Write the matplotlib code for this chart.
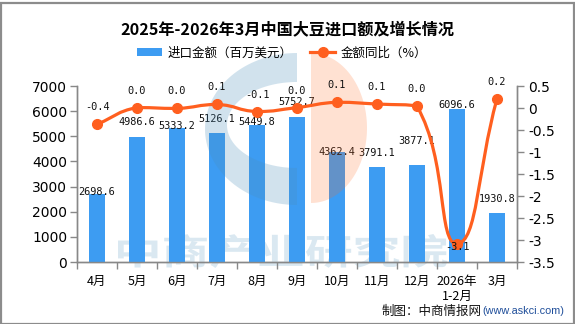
import numpy as np
import matplotlib
matplotlib.use("Agg")
import matplotlib.pyplot as plt
from matplotlib.path import Path
from matplotlib.patches import PathPatch, Polygon, Rectangle
from matplotlib.textpath import TextPath
from matplotlib.font_manager import FontProperties
from matplotlib.transforms import IdentityTransform, Affine2D
from matplotlib.lines import Line2D

plt.rcParams['font.family'] = ['Noto Sans CJK SC', 'DejaVu Sans']
plt.rcParams['axes.unicode_minus'] = False

# ---------------- data ----------------
categories = ['4月', '5月', '6月', '7月', '8月', '9月', '10月', '11月', '12月',
              '2026年\n1-2月', '3月']
import_value = [2698.6, 4986.6, 5333.2, 5126.1, 5449.8, 5752.7, 4362.4,
                3791.1, 3877.1, 6096.6, 1930.8]
yoy_growth = [-0.37, 0.01, -0.01, 0.08, -0.08, 0.01, 0.13, 0.09, 0.04, -3.09, 0.21]
left_ticks = [0, 1000, 2000, 3000, 4000, 5000, 6000, 7000]
right_ticks = [-3.5, -3.0, -2.5, -2.0, -1.5, -1.0, -0.5, 0.0, 0.5]

title = '2025年-2026年3月中国大豆进口额及增长情况'
bar_name = '进口金额（百万美元）'
line_name = '金额同比（%）'

# ---------------- style ----------------
W, H, DPI = 575, 324, 100
BAR_C = '#3D9CF2'
LINE_C = '#FF5F1F'
AX_C = '#888888'
bar_label_dy = [2, 15, 2, 14, 3, 15, 0, 14, 24, 4, 14]    # px above bar top
line_label_dy = [17, 17, 17, 17, 17, 17, 17, 17, 17, -3, 17]  # px above point

fig = plt.figure(figsize=(W / DPI, H / DPI), dpi=DPI)
fig.patch.set_facecolor('white')

L, R, T, B = 77, 517, 86, 262
ax = fig.add_axes([L / W, (H - B) / H, (R - L) / W, (B - T) / H])
ax.set_facecolor('none')
ax2 = ax.twinx()
ax2.set_facecolor('none')

x = np.arange(len(categories))
ax.bar(x, import_value, width=0.4, color=BAR_C, zorder=3)
ax.set_xlim(-0.5, len(categories) - 0.5)
ax.set_ylim(left_ticks[0], left_ticks[-1])
ax2.set_ylim(right_ticks[0], right_ticks[-1])

ax.set_yticks(left_ticks)
ax.set_yticklabels([str(v) for v in left_ticks], fontfamily='DejaVu Sans', fontsize=10)
ax2.set_yticks(right_ticks)
ax2.set_yticklabels([f'{v:g}' if abs(v) > 1e-9 else '0' for v in right_ticks],
                    fontfamily='DejaVu Sans', fontsize=10)
ax.set_xticks(x)
ax.set_xticklabels(categories, fontsize=9, linespacing=1.25)
ax.set_xticks(np.arange(-0.5, len(categories), 1.0), minor=True)
ax.tick_params(axis='x', which='major', length=0, pad=9)
ax.tick_params(axis='x', which='minor', length=5, color=AX_C, width=1)
ax.tick_params(axis='y', length=5, color=AX_C, width=1, pad=2)
ax2.tick_params(axis='y', length=5, color=AX_C, width=1, pad=3)

for a in (ax, ax2):
    a.spines['top'].set_visible(False)
    for s in ('left', 'right', 'bottom'):
        a.spines[s].set_color(AX_C)
        a.spines[s].set_linewidth(1)

# bar labels
for xi, v, dy in zip(x, import_value, bar_label_dy):
    ax.annotate(f'{v:.1f}', (xi, v), xytext=(0, dy * 0.72), textcoords='offset points',
                ha='center', va='center', fontsize=7.4, fontfamily='DejaVu Sans Mono',
                color='#111111', zorder=6)

# smoothed line (ECharts-like bezier smoothing in display space)
pts = ax2.transData.transform(np.column_stack([x, yoy_growth]))
n = len(pts)
smooth = 0.5
cp_in = [None] * n
cp_out = [None] * n
for i in range(n):
    p = pts[i]
    prev = pts[i - 1] if i > 0 else p
    nxt = pts[i + 1] if i < n - 1 else p
    v = nxt - prev
    d0 = np.hypot(*(p - prev))
    d1 = np.hypot(*(nxt - p))
    r = d1 / (d0 + d1) if (d0 + d1) > 0 else 0.5
    co = p + v * smooth * r
    ci = p - v * smooth * (1 - r)
    co = np.clip(co, np.minimum(p, nxt), np.maximum(p, nxt))
    ci = np.clip(ci, np.minimum(p, prev), np.maximum(p, prev))
    cp_in[i], cp_out[i] = ci, co
verts = [pts[0]]
codes = [Path.MOVETO]
for i in range(n - 1):
    verts += [cp_out[i], cp_in[i + 1], pts[i + 1]]
    codes += [Path.CURVE4] * 3
disp_path = Path(np.array(verts), codes)
data_path = disp_path.transformed(ax2.transData.inverted())
ax2.add_patch(PathPatch(data_path, facecolor='none', edgecolor=LINE_C, lw=2.3,
                        zorder=4, capstyle='round', joinstyle='round'))
ax2.plot(x, yoy_growth, linestyle='none', marker='o', markersize=7,
         color=LINE_C, zorder=5)
for xi, v, dy in zip(x, yoy_growth, line_label_dy):
    lab = f'{v:.1f}'
    if lab == '-0.0':
        lab = '0.0'
    ax2.annotate(lab, (xi, v), xytext=(0, dy * 0.72), textcoords='offset points',
                 ha='center', va='center', fontsize=7.4, fontfamily='DejaVu Sans Mono',
                 color='#111111', zorder=6)

# ---------- watermark logo (pixel coords, y from top) ----------
def px(xp, yp):
    return np.column_stack([xp, H - np.asarray(yp)])

th = np.linspace(np.pi / 2, 3 * np.pi / 2, 80)
outer = px(297 + 92 * np.cos(th), 129 - 76 * np.sin(th))
inner = px(297 + 70 * np.cos(th[::-1]), 125 - 43 * np.sin(th[::-1]))
blue_logo = Polygon(np.vstack([outer, inner]), closed=True, transform=IdentityTransform(),
                    facecolor='#4A8FBB', alpha=0.25, edgecolor='none', zorder=2, clip_on=False)
th2 = np.linspace(-np.pi / 2, np.pi / 2, 80)
orange = px(311 + 56 * np.cos(th2), 128 - 75 * np.sin(th2))
orange_logo = Polygon(orange, closed=True, transform=IdentityTransform(),
                      facecolor='#FF6A22', alpha=0.2, edgecolor='none', zorder=2, clip_on=False)
ax2.add_patch(blue_logo)
ax2.add_patch(orange_logo)

# watermark text behind bars
tp = TextPath((0, 0), '中商产业研究院', size=40,
              prop=FontProperties(family='Noto Sans CJK SC', weight='bold'))
bb = tp.get_extents()
x0, x1, ytop, ybot = 118, 447, 234, 268
tr = (Affine2D().translate(-bb.x0, -bb.y0)
      .scale((x1 - x0) / bb.width, (ybot - ytop) / bb.height)
      .translate(x0, H - ybot))
wm = PathPatch(tr.transform_path(tp), transform=IdentityTransform(),
               facecolor='#4A8FBB', alpha=0.2, edgecolor='none', zorder=-1)
fig.add_artist(wm)

# ---------- title, legend, source ----------
fig.text(0.5, 1 - 29 / H, title, ha='center', va='center', fontsize=11.6,
         fontweight='bold', color='#000000')
h_bar = Rectangle((0, 0), 1, 1, facecolor=BAR_C, edgecolor='none')
h_line = Line2D([], [], color=LINE_C, lw=2.3, marker='o', markersize=7)
fig.legend([h_bar, h_line], [bar_name, line_name], loc='center',
           bbox_to_anchor=(282 / W, 1 - 53 / H), ncol=2, frameon=False,
           fontsize=9, handlelength=2.0, handleheight=0.65, handletextpad=0.45,
           columnspacing=1.4, borderpad=0, borderaxespad=0)

fig.text(482 / W, 1 - 311 / H, '制图：中商情报网', ha='right', va='center',
         fontsize=9, color='#111111')
fig.text(482 / W, 1 - 311 / H, '(www.askci.com)', ha='left', va='center',
         fontsize=7.8, fontfamily='Liberation Sans', color='#1F4E9A')

# figure border
fig.add_artist(Rectangle((0.5, 0.5), W - 2, H - 3, transform=IdentityTransform(),
                         facecolor='none', edgecolor='#8C8C8C', lw=1.6, zorder=10))

fig.savefig('out.png', dpi=DPI, facecolor='white')
